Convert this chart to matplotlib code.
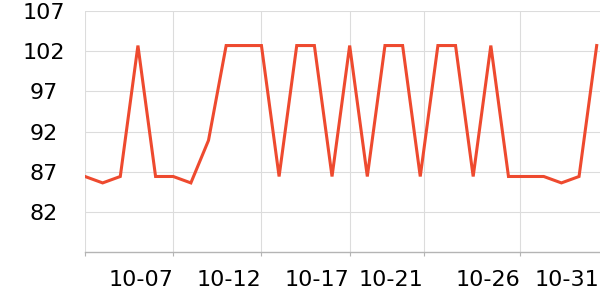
import matplotlib
matplotlib.use("Agg")
import matplotlib.pyplot as plt

dates = ["10-%02d" % d for d in range(2, 32)]
values = [86.4, 85.6, 86.4, 102.7, 86.4, 86.4, 85.6, 90.9, 102.7, 102.7,
          102.7, 86.4, 102.7, 102.7, 86.4, 102.7, 86.4, 102.7, 102.7, 86.4,
          102.7, 102.7, 86.4, 102.7, 86.4, 86.4, 86.4, 85.6, 86.4, 102.7]
y_ticks = [82, 87, 92, 97, 102, 107]
x_tick_pos = [0, 5, 10, 15, 19.19, 24.65]
x_tick_labels = ["", "10-07", "10-12", "10-17", "10-21", "10-26"]
last_tick_pos = 29.15
last_tick_label = "10-31"

fig = plt.figure(figsize=(6, 3), dpi=100)
ax = fig.add_axes([85/600, 48/300, (600-85)/600, (252-11)/300])

x = list(range(len(values)))
ax.plot(x, values, color="#ee4a2f", linewidth=2.2, solid_joinstyle="miter", zorder=3)

ax.set_xlim(0, 29 + 3.3/17.62)
ax.set_ylim(77, 107)
ax.set_yticks(y_ticks)
ax.set_yticklabels([str(v) for v in y_ticks])
ax.set_xticks(x_tick_pos)
ax.set_xticklabels(x_tick_labels)
ax.set_xticks([last_tick_pos], minor=True)
ax.set_xticklabels([last_tick_label], minor=True)

ax.grid(True, which="major", color="#dcdcdc", linewidth=0.8)
for s in ["top", "right", "left"]:
    ax.spines[s].set_visible(False)
ax.spines["bottom"].set_color("#b4b4b4")
ax.spines["bottom"].set_linewidth(1.0)

ax.tick_params(axis="y", length=0, pad=30, labelsize=16, colors="black")
ax.tick_params(axis="x", which="major", length=3, color="#b4b4b4", pad=10, labelsize=16)
ax.tick_params(axis="x", which="minor", length=0, pad=13, labelsize=16)
for lab in ax.get_yticklabels():
    lab.set_horizontalalignment("center")
for lab in ax.get_xticklabels() + ax.get_xticklabels(minor=True):
    lab.set_horizontalalignment("right")

fig.savefig("out.png", dpi=100)
